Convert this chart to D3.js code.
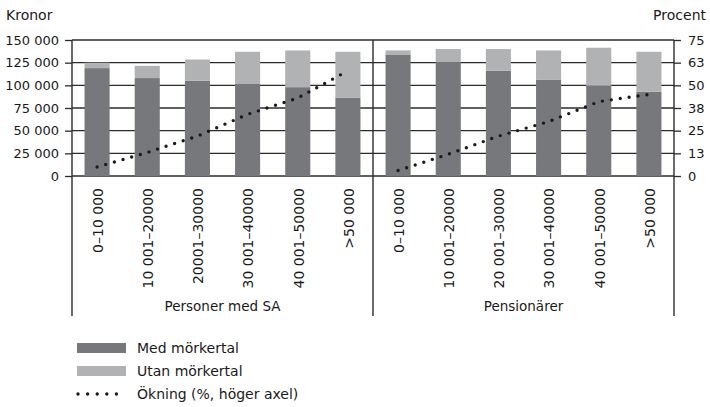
<!DOCTYPE html>
<html>
<head>
<meta charset="utf-8">
<script src="https://cdn.jsdelivr.net/npm/d3@7"></script>
<style>
  body { margin: 0; background: #fff; }
  svg text { font-family: "DejaVu Sans", sans-serif; fill: #1a1a1a; }
</style>
</head>
<body>
<div id="chart"></div>
<script>
var groups = ["Personer med SA", "Pensionärer"];
var bins = [
  ["0–10 000", "10 001–20000", "20001–30000", "30 001–40000", "40 001–50000", ">50 000"],
  ["0–10 000", "10 001–20000", "20 001–30000", "30 001–40000", "40 001–50000", ">50 000"]
];
// kronor, lower dark segment
var medMorkertal = [
  [119000, 108000, 105000, 101500, 98000, 86500],
  [133500, 125500, 116000, 106000, 99500, 93000]
];
// kronor, light segment on top
var utanMorkertal = [
  [6000, 13500, 23500, 35500, 40500, 50500],
  [5000, 14500, 24000, 32500, 42000, 44000]
];
// procent, right axis
var okning = [
  [5, 13, 22, 34, 43, 58],
  [3, 12, 22, 30, 41, 45]
];
var leftTicks = [0, 25000, 50000, 75000, 100000, 125000, 150000];
var rightTicks = [0, 12.5, 25, 37.5, 50, 62.5, 75];

var width = 710, height = 407;
var margin = {left: 72, right: 36, top: 40};
var plotBottom = 176, frameBottom = 316;

var svg = d3.select("#chart").append("svg")
  .attr("width", width)
  .attr("height", height);

var xGroup = d3.scaleBand().domain(d3.range(groups.length))
  .range([margin.left, width - margin.right]);
var xBin = d3.scaleBand().domain(d3.range(6))
  .range([0, xGroup.bandwidth()])
  .paddingInner(0.5).paddingOuter(0.25);

var y = d3.scaleLinear().domain([0, 150000]).range([plotBottom, margin.top]);
var y2 = d3.scaleLinear().domain([0, 75]).range([plotBottom, margin.top]);

var fmt = function(d) { return d3.format(",")(d).replace(/,/g, " "); };

// gridlines
svg.append("g").selectAll("line")
  .data(leftTicks)
  .enter().append("line")
  .attr("x1", margin.left).attr("x2", width - margin.right)
  .attr("y1", function(d) { return y(d); })
  .attr("y2", function(d) { return y(d); })
  .style("stroke", "#2b2b2b")
  .style("stroke-width", 1.3);

// bars
groups.forEach(function(g, gi) {
  var gEl = svg.append("g")
    .attr("transform", "translate(" + xGroup(gi) + ",0)");

  gEl.selectAll("rect.med")
    .data(medMorkertal[gi])
    .enter().append("rect")
    .attr("class", "med")
    .attr("x", function(d, i) { return xBin(i); })
    .attr("width", xBin.bandwidth())
    .attr("y", function(d) { return y(d); })
    .attr("height", function(d) { return y(0) - y(d); })
    .style("fill", "#77787b");

  gEl.selectAll("rect.utan")
    .data(utanMorkertal[gi])
    .enter().append("rect")
    .attr("class", "utan")
    .attr("x", function(d, i) { return xBin(i); })
    .attr("width", xBin.bandwidth())
    .attr("y", function(d, i) { return y(medMorkertal[gi][i] + d); })
    .attr("height", function(d) { return y(0) - y(d); })
    .style("fill", "#b1b2b4");

  var line = d3.line()
    .x(function(d, i) { return xBin(i) + xBin.bandwidth() / 2; })
    .y(function(d) { return y2(d); });

  gEl.append("path")
    .datum(okning[gi])
    .attr("d", line)
    .style("fill", "none")
    .style("stroke", "#1a1a1a")
    .style("stroke-width", 3.4)
    .style("stroke-linecap", "round")
    .style("stroke-dasharray", "0,9");

  // bin labels
  gEl.selectAll("text.bin")
    .data(bins[gi])
    .enter().append("text")
    .attr("class", "bin")
    .attr("transform", function(d, i) {
      return "translate(" + (xBin(i) + xBin.bandwidth() / 2 + 1) + "," + 188 + ") rotate(-90)";
    })
    .attr("dy", "0.35em")
    .style("text-anchor", "end")
    .style("font-size", "14px")
    .text(function(d) { return d; });

  gEl.append("text")
    .attr("x", xGroup.bandwidth() / 2)
    .attr("y", 311)
    .style("text-anchor", "middle")
    .style("font-size", "13.5px")
    .text(g);
});

// AXIS
var yAxisL = svg.append("g")
  .attr("transform", "translate(" + margin.left + ",0)")
  .call(d3.axisLeft(y).tickValues(leftTicks).tickFormat(fmt).tickSize(7).tickPadding(6));
var yAxisR = svg.append("g")
  .attr("transform", "translate(" + (width - margin.right) + ",0)")
  .call(d3.axisRight(y2).tickValues(rightTicks).tickFormat(function(d) { return Math.round(d); }).tickSize(7).tickPadding(7));
[yAxisL, yAxisR].forEach(function(a) {
  a.select(".domain").remove();
  a.selectAll("line").style("stroke", "#2b2b2b").style("stroke-width", 1.3);
  a.selectAll("text").style("font-size", "13px").style("font-family", "'DejaVu Sans', sans-serif").style("fill", "#1a1a1a");
});

// frame lines: left, separator, right
[margin.left, xGroup(1), width - margin.right].forEach(function(xv) {
  svg.append("line")
    .attr("x1", xv).attr("x2", xv)
    .attr("y1", margin.top).attr("y2", frameBottom)
    .style("stroke", "#2b2b2b")
    .style("stroke-width", 1.4);
});

// AXIS LABLE
svg.append("text").attr("x", 6).attr("y", 20)
  .style("font-size", "14px").text("Kronor");
svg.append("text").attr("x", 706).attr("y", 20)
  .style("font-size", "14px").style("text-anchor", "end").text("Procent");

// LEGEND
var legendItems = ["Med mörkertal", "Utan mörkertal", "Ökning (%, höger axel)"];
var legendColors = ["#77787b", "#b1b2b4", null];
var legend = svg.selectAll(".legend")
  .data(legendItems)
  .enter().append("g")
  .attr("class", "legend")
  .attr("transform", function(d, i) { return "translate(77," + (348 + i * 23) + ")"; });

legend.each(function(d, i) {
  var el = d3.select(this);
  if (legendColors[i]) {
    el.append("rect")
      .attr("x", 0).attr("y", -5)
      .attr("width", 49).attr("height", 10)
      .style("fill", legendColors[i]);
  } else {
    el.append("line")
      .attr("x1", 1).attr("x2", 49)
      .attr("y1", 0).attr("y2", 0)
      .style("stroke", "#1a1a1a")
      .style("stroke-width", 3.4)
      .style("stroke-linecap", "round")
      .style("stroke-dasharray", "0,9.6");
  }
  el.append("text")
    .attr("x", 60).attr("y", 0)
    .attr("dy", "0.35em")
    .style("font-size", "14px")
    .text(d);
});
</script>
</body>
</html>
